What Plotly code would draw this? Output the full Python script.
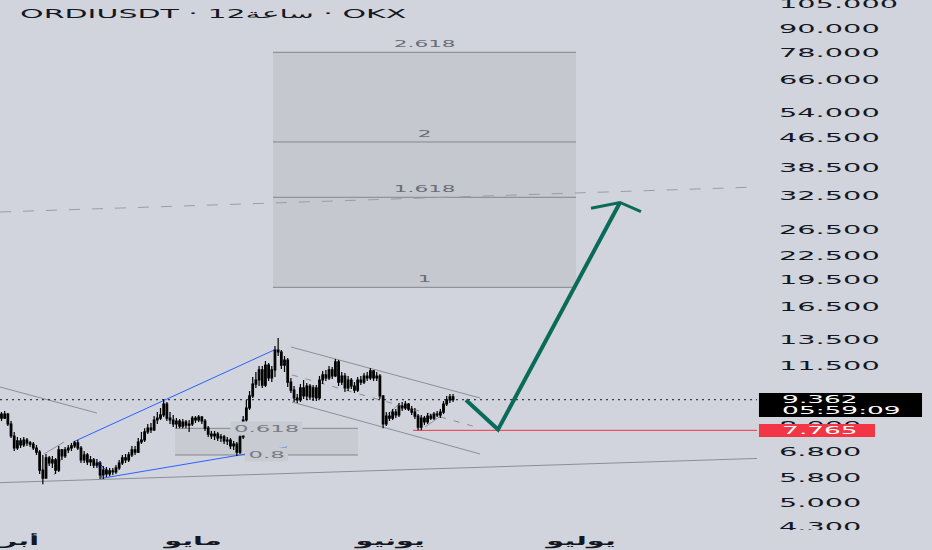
import numpy as np
import pandas as pd
import plotly.graph_objects as go

# ORDIUSDT 12h candles (OKX)
first_open = 8.58
closes = [8.37, 8.58, 8.07, 7.50, 6.97, 7.28, 7.10, 7.32, 7.19, 7.14,
          6.97, 6.80, 6.09, 5.80, 6.56, 6.36, 6.48, 6.09, 6.89, 6.64,
          6.89, 6.97, 7.06, 7.19, 6.97, 6.48, 6.68, 6.40, 6.48, 6.28,
          6.36, 5.91, 6.09, 5.95, 6.06, 6.02, 6.17, 6.36, 6.56, 6.48,
          6.68, 6.89, 6.80, 7.23, 7.32, 7.69, 7.87, 7.78, 8.27, 8.37,
          8.53, 9.12, 8.37, 8.27, 8.07, 8.22, 7.97, 8.17, 8.02, 8.07,
          8.37, 8.27, 8.42, 8.22, 7.87, 7.59, 7.50, 7.59, 7.41, 7.46,
          7.28, 7.32, 7.06, 7.14, 6.80, 7.46, 8.27, 8.90, 9.58, 10.30,
          10.56, 11.23, 10.24, 11.57, 10.69, 11.23, 12.68, 12.53, 11.57, 11.93,
          10.43, 9.93, 9.46, 9.35, 10.06, 9.58, 10.18, 9.52, 10.06, 9.46,
          10.56, 10.89, 10.69, 11.23, 10.82, 11.79, 10.43, 10.82, 10.06, 10.56,
          10.18, 9.93, 10.56, 10.43, 10.82, 10.69, 11.16, 10.69, 10.82, 9.58,
          8.07, 8.47, 8.37, 8.68, 8.53, 9.01, 8.90, 9.12, 8.84, 8.68,
          8.47, 7.92, 8.37, 8.17, 8.47, 8.37, 8.58, 8.53, 8.68, 9.12,
          9.35, 9.52, 9.362]
highs = [8.68, 8.74, 8.63, 8.22, 7.69, 7.46, 7.41, 7.46, 7.41, 7.28,
         7.23, 7.10, 6.89, 6.68, 6.72, 6.64, 6.64, 6.56, 7.06, 6.93,
         7.01, 7.10, 7.19, 7.28, 7.32, 7.06, 6.84, 6.76, 6.64, 6.56,
         6.52, 6.44, 6.24, 6.21, 6.17, 6.17, 6.28, 6.48, 6.68, 6.72,
         6.80, 7.06, 7.06, 7.41, 7.69, 7.87, 8.07, 8.12, 8.47, 8.68,
         8.90, 9.40, 9.23, 8.68, 8.53, 8.37, 8.32, 8.32, 8.27, 8.27,
         8.47, 8.47, 8.53, 8.47, 8.32, 7.97, 7.73, 7.73, 7.69, 7.59,
         7.55, 7.46, 7.41, 7.28, 7.23, 7.64, 8.47, 9.35, 9.87, 10.76,
         11.09, 11.50, 11.50, 11.86, 11.72, 11.50, 13.00, 13.65, 12.68, 12.23,
         12.08, 10.69, 10.18, 9.69, 10.30, 10.56, 10.37, 10.30, 10.24, 10.24,
         10.82, 11.16, 11.23, 11.50, 11.43, 12.01, 11.93, 11.09, 11.02, 10.82,
         10.69, 10.43, 10.76, 10.82, 11.02, 11.09, 11.36, 11.23, 11.09, 10.95,
         9.58, 8.68, 8.68, 8.84, 8.84, 9.18, 9.23, 9.29, 9.18, 9.01,
         8.90, 8.58, 8.53, 8.47, 8.63, 8.58, 8.68, 8.74, 8.84, 9.29,
         9.58, 9.69, 9.69]
lows = [8.22, 8.32, 7.97, 7.41, 6.84, 6.89, 6.97, 7.01, 7.06, 7.01,
        6.89, 6.68, 5.95, 5.59, 5.80, 6.24, 6.17, 5.95, 6.02, 6.48,
        6.56, 6.76, 6.84, 6.97, 6.89, 6.36, 6.36, 6.28, 6.24, 6.17,
        6.17, 5.77, 5.77, 5.84, 5.87, 5.91, 5.95, 6.09, 6.28, 6.36,
        6.40, 6.60, 6.68, 6.76, 7.14, 7.23, 7.59, 7.64, 7.73, 8.07,
        8.27, 8.42, 8.22, 8.07, 7.92, 7.87, 7.87, 7.87, 7.87, 7.69,
        7.97, 8.12, 8.17, 8.07, 7.73, 7.46, 7.37, 7.32, 7.28, 7.23,
        7.14, 7.10, 6.93, 6.89, 6.64, 6.72, 7.37, 8.17, 8.79, 9.46,
        10.06, 10.18, 10.06, 10.12, 10.50, 10.43, 10.76, 12.23, 11.29, 11.09,
        10.12, 9.75, 9.23, 9.18, 9.23, 9.40, 9.35, 9.35, 9.29, 9.29,
        9.40, 10.30, 10.50, 10.56, 10.62, 10.76, 10.18, 10.24, 9.81, 9.87,
        9.99, 9.75, 9.81, 10.24, 10.30, 10.50, 10.56, 10.50, 10.50, 9.40,
        7.87, 7.97, 8.22, 8.27, 8.37, 8.42, 8.74, 8.79, 8.74, 8.53,
        8.32, 7.765, 7.77, 8.02, 8.07, 8.27, 8.27, 8.42, 8.37, 8.58,
        9.01, 9.18, 9.23]
opens = [first_open] + closes[:-1]
times = pd.date_range("2025-04-01", periods=len(closes), freq="12h")

# axes
plot_start, plot_end = "2025-03-31 18:20", "2025-07-28 19:00"
month_starts = ["2025-04-01", "2025-05-01", "2025-06-01", "2025-07-01"]
month_names = ["أبريل", "مايو", "يونيو", "يوليو"]
price_ticks = [4.3, 5.0, 5.8, 6.8, 8.0, 11.5, 13.5, 16.5, 19.5, 22.5,
               26.5, 32.5, 38.5, 46.5, 54, 66, 78, 90, 105]

# drawings
fib_levels = ["1", "1.618", "2", "2.618"]
fib_prices = [18.60, 32.24, 45.20, 78.17]
fib_span = ["2025-05-13 16:30", "2025-06-30 08:00"]
retr_levels = ["0.618", "0.8"]
retr_prices = [7.86, 6.68]
retr_span = ["2025-04-28 07:00", "2025-05-27 01:00"]

gray_lines = [
    ("2025-03-31 18:20", 10.12, "2025-04-16 00:30", 8.63),
    ("2025-03-31 18:20", 5.64, "2025-07-28 19:00", 6.54),
    ("2025-05-16 12:00", 12.92, "2025-06-15 06:00", 9.46),
    ("2025-05-16 16:00", 9.23, "2025-06-15 06:00", 6.72),
    ("2025-04-07 16:20", 6.72, "2025-04-10 19:50", 7.23),
    ("2025-04-09 06:00", 5.91, "2025-04-10 12:15", 6.60),
    ("2025-05-31 07:10", 8.42, "2025-06-02 15:50", 9.18),
    ("2025-06-06 14:10", 7.92, "2025-06-09 06:15", 8.53),
]
long_dashed = ("2025-03-31 18:20", 29.47, "2025-07-28 19:00", 34.33)
mid_dashed = ("2025-05-16 16:00", 10.89, "2025-06-15 06:00", 7.87)
blue_lines = [
    ("2025-04-12 05:45", 7.23, "2025-05-13 20:25", 12.68),
    ("2025-04-16 23:00", 5.80, "2025-05-15 21:20", 7.01),
    ("2025-04-16 04:00", 6.40, "2025-04-17 14:10", 6.06),
    ("2025-04-16 04:00", 6.40, "2025-04-16 19:15", 5.77),
]
path_times = ["2025-06-13 00:45", "2025-06-18 01:40", "2025-07-07 06:00"]
path_prices = [9.35, 7.80, 31.23]
head_times = ["2025-07-02 16:30", "2025-07-07 06:00", "2025-07-10 13:10"]
head_prices = [30.14, 31.23, 29.52]
stop_start = "2025-06-04 17:00"
stop_price = 7.765
last_price = closes[-1]
bar_countdown = "05:59:09"

BG = "#d1d4dc"
GRAY = "#8c8f97"
BLUE = "#2962ff"
GREEN = "#0b6b5a"
RED = "#f23645"
INK = "#131722"
FONT = "DejaVu Sans"

fig = go.Figure()
fig.add_trace(go.Candlestick(
    x=times, open=opens, high=highs, low=lows, close=closes,
    increasing=dict(line=dict(color="#000000", width=1.2), fillcolor="#000000"),
    decreasing=dict(line=dict(color="#000000", width=1.2), fillcolor="#000000"),
    whiskerwidth=0, hoverinfo="skip"))
fig.add_trace(go.Scatter(x=path_times, y=path_prices, mode="lines",
                         line=dict(color=GREEN, width=4), hoverinfo="skip"))
fig.add_trace(go.Scatter(x=head_times, y=head_prices, mode="lines",
                         line=dict(color=GREEN, width=3), hoverinfo="skip"))

# fib extension box
fig.add_shape(type="rect", xref="x", yref="y", x0=fib_span[0], x1=fib_span[1],
              y0=fib_prices[0], y1=fib_prices[-1], fillcolor="#c5c8cf",
              line_width=0, layer="below")
fib_mid = pd.Timestamp(fib_span[0]) + (pd.Timestamp(fib_span[1]) - pd.Timestamp(fib_span[0])) / 2
for lvl, p in zip(fib_levels, fib_prices):
    fig.add_shape(type="line", xref="x", yref="y", x0=fib_span[0], x1=fib_span[1],
                  y0=p, y1=p, line=dict(color="#84878e", width=1), layer="below")
    fig.add_annotation(x=fib_mid, y=np.log10(p), text=lvl, showarrow=False,
                       yanchor="bottom", yshift=1,
                       font=dict(family=FONT, size=9, color="#6a6d75"))

# small retracement box
fig.add_shape(type="rect", xref="x", yref="y", x0=retr_span[0], x1=retr_span[1],
              y0=retr_prices[1], y1=retr_prices[0], fillcolor="#c8cbd2",
              line_width=0, layer="below")
retr_mid = pd.Timestamp(retr_span[0]) + (pd.Timestamp(retr_span[1]) - pd.Timestamp(retr_span[0])) / 2
for lvl, p in zip(retr_levels, retr_prices):
    fig.add_shape(type="line", xref="x", yref="y", x0=retr_span[0], x1=retr_span[1],
                  y0=p, y1=p, line=dict(color="#84878e", width=1), layer="below")
    fig.add_annotation(x=retr_mid, y=np.log10(p), text=lvl, showarrow=False,
                       yanchor="middle", bgcolor="#c8cbd2",
                       font=dict(family=FONT, size=9.5, color="#787b86"))

for t0, p0, t1, p1 in gray_lines:
    fig.add_shape(type="line", xref="x", yref="y", x0=t0, y0=p0, x1=t1, y1=p1,
                  line=dict(color=GRAY, width=1), layer="below")
t0, p0, t1, p1 = long_dashed
fig.add_shape(type="line", xref="x", yref="y", x0=t0, y0=p0, x1=t1, y1=p1,
              line=dict(color="#9a9da5", width=1, dash="11px,12px"), layer="below")
t0, p0, t1, p1 = mid_dashed
fig.add_shape(type="line", xref="x", yref="y", x0=t0, y0=p0, x1=t1, y1=p1,
              line=dict(color=GRAY, width=1, dash="6px,8px"), layer="below")
for t0, p0, t1, p1 in blue_lines:
    fig.add_shape(type="line", xref="x", yref="y", x0=t0, y0=p0, x1=t1, y1=p1,
                  line=dict(color=BLUE, width=1), layer="below")

# stop line and last price line
fig.add_shape(type="line", xref="x", yref="y", x0=stop_start, x1=plot_end,
              y0=stop_price, y1=stop_price, line=dict(color=RED, width=1), layer="below")
fig.add_shape(type="line", xref="x", yref="y", x0=plot_start, x1=plot_end,
              y0=last_price, y1=last_price, line=dict(color=INK, width=1, dash="2px,4px"),
              layer="below")

# price-axis labels (boxes in paper units, the plot is 757 x 530 px)
fig.add_shape(type="rect", xref="paper", yref="paper", x0=1.0026, x1=1.218,
              y0=0.2132, y1=0.2585, fillcolor="#000000", line_width=0, layer="above")
fig.add_shape(type="rect", xref="paper", yref="paper", x0=1.0026, x1=1.1559,
              y0=0.1755, y1=0.2, fillcolor=RED, line_width=0, layer="above")
fig.add_shape(type="rect", xref="paper", yref="paper", x0=1, x1=1.3, y0=-0.05, y1=0,
              fillcolor=BG, line_width=0, layer="above")
fig.add_annotation(xref="paper", x=1, xanchor="left", xshift=21, y=np.log10(last_price),
                   text=f"{last_price:.3f}", showarrow=False, align="left",
                   font=dict(family=FONT, size=11, color="#ffffff"))
fig.add_annotation(xref="paper", x=1, xanchor="left", xshift=21, y=np.log10(last_price),
                   yshift=-11, text=bar_countdown, showarrow=False, align="left",
                   font=dict(family=FONT, size=11, color="#ffffff"))
fig.add_annotation(xref="paper", x=1, xanchor="left", xshift=21, y=np.log10(stop_price),
                   text=f"{stop_price:.3f}", showarrow=False, align="left",
                   font=dict(family=FONT, size=11, color="#ffffff"))

# symbol header
fig.add_annotation(xref="paper", yref="paper", x=0.021, y=0.974, xanchor="left",
                   yanchor="middle", align="left", showarrow=False,
                   text="ORDIUSDT · 12ساعة · OKX",
                   font=dict(family=FONT, size=12.5, color=INK))

fig.update_layout(
    width=932, height=550, margin=dict(l=0, r=175, t=0, b=20),
    paper_bgcolor=BG, plot_bgcolor=BG, showlegend=False,
    font=dict(family=FONT, color=INK),
    xaxis=dict(type="date", range=[plot_start, plot_end], showgrid=False, zeroline=False,
               rangeslider=dict(visible=False), tickvals=month_starts, ticktext=month_names,
               ticks="", ticklabelstandoff=2, ticklabeloverflow="allow", automargin=False,
               tickfont=dict(family=FONT, size=12, color=INK, weight="bold")),
    yaxis=dict(type="log", side="right", range=[0.62572, 2.03180], showgrid=False,
               zeroline=False, tickvals=price_ticks,
               ticktext=[f"{v:.3f}" for v in price_ticks], ticks="",
               ticklabelstandoff=21, ticklabeloverflow="allow", automargin=False,
               tickfont=dict(family=FONT, size=12, color=INK)),
)

# the reference screenshot is horizontally stretched, so widen the text the same way
stretch_js = """
document.body.style.margin = '0';
var gd = document.getElementById('{plot_id}');
var S = 2.4;
function stretch(el, mode) {
  if (!el) return;
  var b = el.getBBox();
  var ax = mode === 'start' ? b.x : (mode === 'end' ? b.x + b.width : b.x + b.width / 2);
  var tr = el.getAttribute('transform') || '';
  el.setAttribute('transform', tr + ' translate(' + ax + ',0) scale(' + S + ',1) translate(' + (-ax) + ',0)');
}
gd.querySelectorAll('.xtick text, .ytick text').forEach(function (t) {
  stretch(t, t.getAttribute('text-anchor'));
});
gd.querySelectorAll('g.annotation').forEach(function (a) {
  var ann = gd.layout.annotations[+a.getAttribute('data-index')];
  var inner = a.querySelector('.annotation-text-g > g') || a.querySelector('text');
  stretch(inner, ann.xanchor === 'left' ? 'start' : 'middle');
});
"""

fig.write_html("out.html", config={"responsive": False, "displayModeBar": False},
               post_script=stretch_js)
